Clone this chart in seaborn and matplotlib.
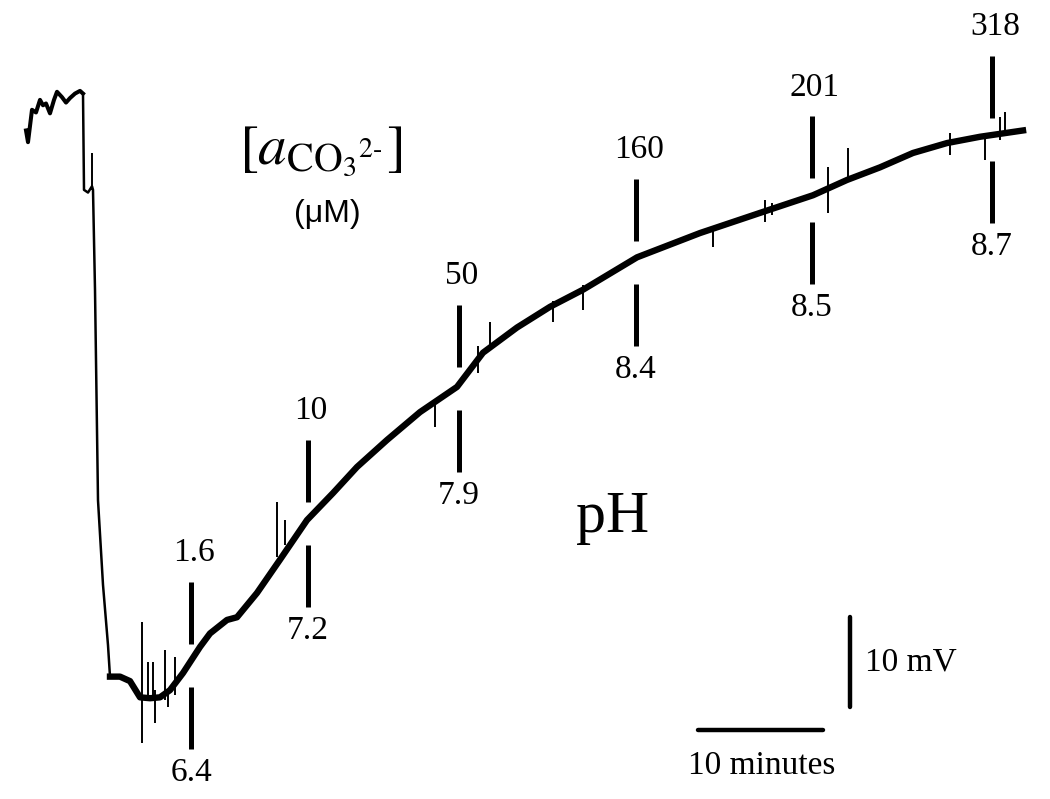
import numpy as np
import matplotlib
matplotlib.use('Agg')
from matplotlib import pyplot as plt
import seaborn as sns

# electrode trace, time in minutes, potential in mV (arbitrary zero)
t_start = [0.08, 0.24, 0.56, 0.88, 1.2, 1.44, 1.68, 2.0, 2.32, 2.56, 2.96, 3.28, 3.6, 4.0, 4.4, 4.64]
v_start = [63.3, 62.0, 65.6, 65.3, 66.7, 66.1, 66.3, 65.2, 66.7, 67.6, 67.0, 66.4, 66.9, 67.4, 67.7, 67.4]

t_drop = [4.64, 4.72, 5.04, 5.36, 5.44, 5.6, 5.84, 6.24, 6.64, 6.8]
v_drop = [67.4, 56.7, 56.4, 57.1, 56.7, 45.6, 22.2, 12.8, 6.1, 2.6]

t_main = [6.8, 7.6, 8.4, 9.2, 10.0, 10.8, 11.6, 12.64, 14.0, 14.8, 16.16, 16.96, 18.56,
          20.4, 22.56, 24.64, 26.56, 28.96, 31.6, 34.56, 36.64, 39.36, 42.0, 44.64,
          48.96, 54.0, 59.36, 63.04, 65.76, 68.4, 71.04, 73.76, 76.4, 79.84]
v_main = [2.6, 2.6, 2.1, 0.3, 0.2, 0.3, 1.1, 3.0, 5.9, 7.4, 8.9, 9.2, 11.9,
          15.6, 20.0, 23.0, 25.9, 28.9, 32.0, 34.8, 38.6, 41.4, 43.7, 45.6,
          49.2, 51.9, 54.4, 56.1, 57.8, 59.2, 60.8, 61.9, 62.6, 63.3]

# visible spikes on the trace: time, top, bottom
spike_t = [5.36, 9.36, 9.84, 10.24, 10.4, 11.2, 11.44, 12.0, 20.16, 20.8, 32.8, 36.24,
           37.2, 42.24, 44.64, 55.04, 59.2, 59.76, 64.24, 65.84, 74.0, 76.8, 78.0, 78.4]
spike_top = [60.8, 8.7, 4.2, 4.2, 1.1, 5.6, 1.1, 4.8, 22.0, 20.0, 33.3, 39.4,
             42.0, 44.4, 46.1, 52.4, 55.6, 55.2, 59.2, 61.3, 63.0, 62.4, 64.8, 65.3]
spike_bot = [56.7, -4.8, 0.0, 0.0, -2.6, 0.0, -0.8, 0.6, 15.9, 17.2, 30.3, 36.4,
             39.4, 42.0, 43.3, 50.3, 53.1, 53.9, 54.1, 57.8, 60.6, 60.0, 62.2, 62.8]

# additions: carbonate activity (uM) above, pH below
mark_t = [13.28, 22.64, 34.72, 48.88, 62.96, 77.36]
co3_labels = ['1.6', '10', '50', '160', '201', '318']
ph_labels = ['6.4', '7.2', '7.9', '8.4', '8.5', '8.7']

fig = plt.figure(figsize=(10.5, 7.99), dpi=100)
ax = fig.add_axes([0, 0, 1, 1])
ax.set_xlim(-2.0, 82.0)
ax.set_ylim(-11.0, 77.8)
ax.axis('off')

plt.rcParams['mathtext.fontset'] = 'stix'
serif = 'Liberation Serif'

sns.lineplot(x=t_start, y=v_start, ax=ax, color='black', lw=2.9, estimator=None, sort=False)
sns.lineplot(x=t_drop, y=v_drop, ax=ax, color='black', lw=1.8, estimator=None, sort=False)
sns.lineplot(x=t_main, y=v_main, ax=ax, color='black', lw=4.6, estimator=None, sort=False)
ax.vlines(spike_t, spike_bot, spike_top, color='black', lw=1.4)

level = np.interp(mark_t, t_main, v_main)
gap_up, gap_dn, length = 1.9, 2.9, 6.9
for t, lv, up, dn in zip(mark_t, level, co3_labels, ph_labels):
    ax.plot([t, t], [lv + gap_up, lv + gap_up + length], color='black', lw=3.6,
            solid_capstyle='butt')
    ax.plot([t, t], [lv - gap_dn, lv - gap_dn - length], color='black', lw=3.6,
            solid_capstyle='butt')
    ax.annotate(up, (t, lv + gap_up + length), xytext=(2, 15), textcoords='offset points',
                ha='center', va='baseline', fontsize=24, family=serif)
    ax.annotate(dn, (t, lv - gap_dn - length), xytext=(0, -6), textcoords='offset points',
                ha='center', va='top', fontsize=24, family=serif)

# scale bars
ax.plot([66.0, 66.0], [-0.8, 9.2], color='black', lw=3.2, solid_capstyle='round')
ax.plot([53.84, 63.84], [-3.33, -3.33], color='black', lw=3.2, solid_capstyle='round')
ax.text(67.2, 3.3, '10 mV', fontsize=24, family=serif, va='baseline', ha='left')
ax.text(58.9, -8.2, '10 minutes', fontsize=24, family=serif, va='baseline', ha='center')

# labels
ax.text(0.305, 0.81, r'$[a_{\mathrm{CO}_3{}^{2\text{-}}}]$', transform=ax.transAxes,
        fontsize=41, ha='center', va='center')
ax.text(0.312, 0.732, '(\u03bcM)', transform=ax.transAxes, fontsize=23,
        family='Liberation Sans', ha='center', va='center')
ax.text(0.583, 0.334, 'pH', transform=ax.transAxes, fontsize=43, family=serif,
        ha='center', va='baseline')

plt.savefig('out.png', dpi=100)
